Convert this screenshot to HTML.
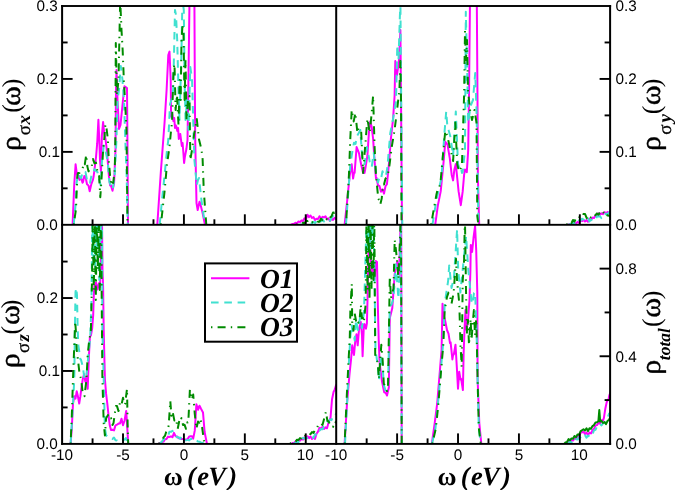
<!DOCTYPE html>
<html><head><meta charset="utf-8"><style>html,body{margin:0;padding:0;background:#fff;}svg{display:block;will-change:transform;}</style></head><body>
<svg width="675" height="490" viewBox="0 0 675 490" text-rendering="geometricPrecision">
<rect width="675" height="490" fill="#fff"/>
<defs>
<clipPath id="cTL"><rect x="62.1" y="6.0" width="274.1" height="218.8"/></clipPath>
<clipPath id="cTR"><rect x="336.2" y="6.0" width="273.9" height="218.8"/></clipPath>
<clipPath id="cBL"><rect x="62.1" y="224.8" width="274.1" height="219.1"/></clipPath>
<clipPath id="cBR"><rect x="336.2" y="224.8" width="273.9" height="219.1"/></clipPath>
</defs>
<g clip-path="url(#cTL)" fill="none" stroke-linejoin="round">
<polyline stroke="#ff00ff" stroke-width="2" points="72.6,224.8 74.2,185.4 75.6,164.3 76.8,173.7 78.0,175.5 79.5,179.9 81.0,177.2 82.5,182.8 83.1,181.9 84.3,176.0 85.5,176.7 87.0,184.3 88.5,185.5 89.7,191.3 91.3,184.2 93.0,179.6 93.7,176.0 96.0,157.3 97.2,143.2 98.4,119.7 99.3,140.0 100.0,160.0 101.0,172.0 101.9,135.0 103.1,122.0 104.3,133.8 105.4,138.5 106.6,147.9 107.8,162.0 108.9,176.0 110.1,185.4 111.0,185.6 112.5,190.7 114.1,183.0 115.5,150.0 116.0,90.0 116.5,70.0 117.5,100.0 119.0,129.0 120.5,125.0 122.0,110.0 124.0,90.0 124.5,86.3 126.0,87.3 127.0,88.0 127.5,150.0 128.0,224.8"/>
<polyline stroke="#ff00ff" stroke-width="2" points="157.3,224.8 160.9,171.0 164.6,122.0 166.6,90.0 168.3,55.0 169.5,51.6 170.7,80.0 171.1,116.8 172.3,114.0 173.4,121.0 174.2,118.0 175.0,128.0 175.5,125.1 176.2,126.0 177.3,131.0 178.1,128.0 178.8,139.0 180.3,134.0 181.8,146.0 182.6,143.0 183.4,153.0 184.1,163.0 184.9,156.7 186.4,149.0 187.5,140.0 188.3,90.0 189.5,0.0 190.5,1.6 192.0,-2.9 193.5,1.1 194.4,0.0 194.8,80.0 195.2,140.0 196.5,203.0 197.7,210.0 199.5,201.8 200.1,203.0 202.6,213.0 205.0,224.8"/>
<polyline stroke="#ff00ff" stroke-width="2" points="290.7,224.8 292.5,224.0 294.0,223.9 295.5,222.7 297.0,223.3 298.5,221.4 300.0,222.1 301.5,220.5 303.0,221.0 304.5,218.3 306.0,219.0 307.5,214.7 309.0,217.1 310.5,215.5 312.0,218.0 313.5,217.1 315.0,220.0 316.5,218.7 318.0,218.9 319.5,216.2 321.0,218.8 322.5,216.8 324.0,217.4 325.5,216.3 327.0,219.3 328.5,218.4 330.0,221.0 331.5,218.6 333.0,219.9 334.5,217.8 336.0,219.1 337.0,217.8"/>
<polyline stroke="#40e0d0" stroke-width="2" stroke-dasharray="7.6 5.7" points="73.7,224.8 75.6,204.2 76.6,183.0 78.0,173.7 79.5,176.0 81.0,178.3 82.5,172.8 84.0,173.9 85.5,172.1 87.0,179.8 88.5,179.0 90.0,182.7 91.5,175.2 93.0,174.6 94.5,169.1 96.0,171.0 97.5,172.1 98.4,176.0 100.7,185.4 101.9,162.0 103.8,145.5 105.4,150.2 107.8,162.0 108.9,178.4 109.5,182.3 111.0,185.6 112.5,189.4 113.2,186.6 114.8,173.7 116.5,138.5 117.5,100.0 119.0,90.0 120.8,66.0 122.5,80.0 124.0,100.0 125.4,143.2 126.6,173.7 127.7,224.8"/>
<polyline stroke="#40e0d0" stroke-width="2" stroke-dasharray="7.6 5.7" points="159.7,224.8 162.0,200.0 164.6,175.0 167.0,150.0 168.3,140.0 170.0,104.0 171.5,100.0 173.2,90.0 175.0,10.0 176.0,15.0 177.2,40.0 178.5,90.0 179.5,120.0 181.3,60.0 182.4,0.0 183.8,10.0 184.6,80.0 185.5,120.0 187.0,100.0 188.5,130.0 190.3,67.0 192.0,79.0 193.5,130.0 194.4,160.0 196.8,185.0 198.0,180.1 199.0,178.0 201.4,200.0 205.0,224.8"/>
<polyline stroke="#40e0d0" stroke-width="2" stroke-dasharray="7.6 5.7" points="298.0,224.8 298.5,224.8 300.0,224.7 301.5,224.5 303.0,224.6 304.5,224.3 306.0,224.5 307.5,223.7 309.0,224.0 310.5,223.1 312.0,223.4 313.5,221.8 315.0,223.0 316.5,221.3 318.0,222.7 319.5,220.3 321.0,221.4 322.5,219.1 324.0,221.5 325.5,220.6 327.0,222.1 328.5,220.3 330.0,220.7 331.5,217.8 333.0,215.9 334.5,211.6 336.0,212.2 337.0,210.6"/>
<polyline stroke="#008b00" stroke-width="2" stroke-dasharray="1.4 5.2 8 5.2" points="73.7,224.8 76.0,209.0 77.3,176.0 78.0,173.0 79.5,173.0 81.0,171.0 82.5,168.6 84.0,163.0 84.8,164.3 86.2,154.9 87.4,166.6 88.5,171.4 90.0,169.3 91.5,167.8 93.0,159.1 94.5,163.4 96.0,162.6 97.5,171.9 99.1,176.0 100.3,197.2 101.4,180.7 103.1,150.2 104.3,138.5 105.4,124.4 106.6,129.1 107.8,138.5 108.9,162.0 110.1,176.0 111.3,185.4 112.5,182.5 113.2,183.0 114.8,169.0 115.3,140.0 115.8,43.0 117.0,95.0 118.5,80.0 120.2,0.0 121.5,30.0 122.6,49.0 123.9,81.0 125.0,100.0 126.5,130.0 127.5,224.8"/>
<polyline stroke="#008b00" stroke-width="2" stroke-dasharray="1.4 5.2 8 5.2" points="160.9,224.8 164.6,191.0 167.0,164.0 169.5,147.0 170.7,134.0 172.0,122.0 173.5,70.0 174.5,64.0 175.6,110.0 177.0,95.0 178.5,125.0 179.7,80.0 180.7,100.0 181.5,40.0 182.6,24.0 183.5,34.0 184.6,100.0 185.5,60.0 186.5,120.0 188.0,100.0 189.5,96.0 190.3,160.0 192.0,150.0 194.0,135.0 196.8,119.0 198.9,139.0 201.4,149.0 202.6,159.0 203.8,191.0 206.3,224.8"/>
<polyline stroke="#008b00" stroke-width="2" stroke-dasharray="1.4 5.2 8 5.2" points="296.0,224.8 297.0,224.4 298.5,224.3 300.0,223.5 301.5,223.8 303.0,222.7 304.5,223.4 306.0,220.9 307.5,221.1 309.0,220.5 310.5,222.9 312.0,222.0 313.5,223.2 315.0,222.9 316.5,223.4 318.0,221.6 319.5,221.7 321.0,218.8 322.5,220.2 324.0,218.7 325.5,220.6 327.0,219.0 328.5,220.6 330.0,217.5 331.5,216.4 333.0,212.5 334.5,212.8 336.0,211.1 337.0,211.6"/>
</g>
<g clip-path="url(#cTR)" fill="none" stroke-linejoin="round">
<polyline stroke="#ff00ff" stroke-width="2" points="344.6,224.8 347.4,198.6 349.7,175.7 351.7,164.3 353.1,178.6 354.0,173.2 354.6,172.9 356.6,147.0 358.9,152.9 361.1,164.3 363.1,172.9 364.5,173.0 365.1,170.0 367.4,155.7 368.9,132.9 370.3,121.4 371.7,127.1 373.1,138.6 374.6,161.4 376.0,178.6 376.5,177.8 378.0,185.5 379.5,186.0 381.0,191.7 382.5,189.4 384.0,193.6 385.5,186.3 386.9,184.3 388.9,164.3 390.9,138.6 393.1,118.6 394.6,95.7 395.3,61.0 397.0,75.0 399.0,60.0 400.4,30.0 401.2,120.0 402.0,224.8"/>
<polyline stroke="#ff00ff" stroke-width="2" points="435.2,224.8 437.9,205.2 440.7,191.4 443.4,163.9 445.3,141.8 447.5,144.6 449.8,158.4 451.7,174.9 453.1,180.4 454.4,169.4 455.8,163.9 457.2,177.6 458.6,191.4 460.8,205.2 462.7,191.4 464.1,174.9 465.0,169.6 466.8,172.1 468.2,150.1 469.0,95.0 470.0,0.0 471.0,1.8 472.5,-1.5 474.0,2.4 475.5,-1.9 476.8,0.0 477.5,100.0 477.9,177.6 479.2,224.8"/>
<polyline stroke="#ff00ff" stroke-width="2" points="567.3,224.8 568.5,224.5 570.0,224.3 571.5,223.7 573.0,224.1 574.5,222.8 576.0,223.6 577.5,221.9 579.0,222.8 580.5,220.5 582.0,221.1 583.5,220.0 585.0,221.5 586.5,220.1 588.0,221.8 589.5,218.8 591.0,220.1 592.5,217.6 594.0,218.0 595.5,215.4 597.0,215.4 598.5,213.3 600.0,214.8 601.5,213.3 603.0,214.1 604.5,212.0 606.0,213.2 607.5,212.0 609.0,212.7 611.0,210.9"/>
<polyline stroke="#40e0d0" stroke-width="2" stroke-dasharray="7.6 5.7" points="346.0,224.8 350.3,164.3 353.1,147.1 354.0,142.8 355.5,144.0 357.0,136.1 358.5,133.6 360.3,130.0 362.3,158.6 363.0,159.2 364.6,164.3 366.9,147.1 369.7,161.4 370.5,164.9 371.7,167.1 373.7,152.9 376.0,172.9 376.5,173.4 378.0,182.4 379.5,177.3 381.0,178.9 382.5,171.2 384.0,175.4 386.0,175.7 387.4,167.1 390.3,132.9 393.1,118.6 396.0,101.4 397.3,45.0 398.5,60.0 400.4,0.0 401.2,100.0 402.3,224.8"/>
<polyline stroke="#40e0d0" stroke-width="2" stroke-dasharray="7.6 5.7" points="432.4,224.8 436.5,199.7 441.5,177.6 444.2,136.3 446.2,111.5 447.5,128.0 448.5,129.9 450.3,136.3 453.1,155.6 455.8,111.5 458.0,163.9 459.0,167.3 460.5,165.7 462.0,173.0 462.7,172.1 465.0,150.1 465.8,11.7 467.0,60.0 468.2,122.5 470.0,110.0 471.0,104.9 473.0,100.0 475.2,73.0 476.5,110.0 477.3,150.1 478.4,224.8"/>
<polyline stroke="#40e0d0" stroke-width="2" stroke-dasharray="7.6 5.7" points="568.3,224.8 570.0,224.1 571.5,224.1 573.0,223.0 574.5,223.3 576.0,221.3 577.5,222.7 579.0,220.4 580.5,220.8 582.0,218.7 583.5,219.6 585.0,217.4 586.5,219.3 588.0,218.4 589.5,221.5 591.0,219.6 592.5,220.4 594.0,219.2 595.5,220.0 597.0,216.2 598.5,216.5 600.0,216.3 601.5,218.1 603.0,215.4 604.5,215.8 606.0,213.6 607.5,214.3 609.0,212.3 611.0,213.3"/>
<polyline stroke="#008b00" stroke-width="2" stroke-dasharray="1.4 5.2 8 5.2" points="346.0,224.8 348.9,175.7 350.3,138.6 351.7,110.0 353.7,121.4 355.4,112.9 357.4,132.9 358.5,128.2 360.0,129.5 361.1,130.0 363.1,172.9 365.1,147.1 367.4,118.6 369.7,132.9 371.7,112.9 373.1,95.7 374.6,147.0 376.0,175.7 378.3,198.6 379.5,200.9 380.3,204.3 381.7,198.6 383.1,184.3 384.0,184.5 385.5,178.6 387.0,177.0 388.9,170.0 391.7,147.1 394.6,130.0 397.4,107.1 399.4,90.0 400.4,61.0 401.0,100.0 401.5,224.8"/>
<polyline stroke="#008b00" stroke-width="2" stroke-dasharray="1.4 5.2 8 5.2" points="431.0,224.8 436.5,194.2 438.0,187.9 439.5,186.8 440.7,180.4 443.4,150.1 445.3,130.8 447.5,136.3 450.3,150.1 451.5,153.6 453.1,161.1 455.3,122.5 457.2,163.9 459.0,171.5 460.5,169.0 461.9,166.6 464.1,95.0 465.0,31.0 466.0,60.0 467.0,40.0 468.0,90.0 470.0,110.0 472.0,120.0 474.5,110.0 476.5,122.5 477.3,216.2 478.4,224.8"/>
<polyline stroke="#008b00" stroke-width="2" stroke-dasharray="1.4 5.2 8 5.2" points="566.4,224.8 567.0,224.3 568.5,224.1 570.0,221.8 571.5,223.0 573.0,220.0 574.5,221.5 576.0,218.7 577.5,219.7 579.0,217.4 580.5,217.4 582.0,213.6 583.5,214.1 585.0,213.9 586.5,217.7 588.0,219.3 589.5,220.5 591.0,217.2 592.5,217.0 594.0,214.1 595.5,215.2 597.0,213.4 598.5,214.7 600.0,212.3 601.5,214.0 603.0,211.9 604.5,214.3 606.0,212.9 607.5,215.6 609.0,215.6 611.0,217.2"/>
</g>
<g clip-path="url(#cBL)" fill="none" stroke-linejoin="round">
<polyline stroke="#ff00ff" stroke-width="2" points="70.6,443.9 71.8,428.0 73.0,403.5 74.3,396.2 75.5,398.6 76.7,391.3 77.9,396.2 79.2,403.5 80.4,396.2 81.6,386.4 82.8,379.0 84.1,374.1 85.3,381.5 86.5,376.6 87.7,388.8 89.0,354.5 89.9,337.0 91.0,335.0 92.2,328.0 93.2,315.0 93.8,295.0 94.4,286.0 96.0,282.5 97.5,289.5 99.0,283.3 100.0,287.0 100.8,260.0 101.3,222.0 102.0,222.0 102.5,270.0 103.1,287.0 103.7,330.0 104.9,379.0 106.1,393.7 107.3,403.5 108.6,415.8 109.8,425.6 111.0,430.0 112.5,429.8 114.0,430.4 115.5,425.4 117.0,424.7 118.5,423.6 120.0,423.4 121.5,418.7 123.0,425.2 124.5,420.7 126.2,410.9 127.0,423.1 128.2,443.9"/>
<polyline stroke="#ff00ff" stroke-width="2" points="158.1,443.9 159.0,443.5 160.5,443.0 162.0,442.1 163.5,441.6 165.0,439.3 166.5,439.0 168.0,436.6 169.5,437.0 171.0,436.3 172.5,437.2 174.0,432.9 175.5,436.2 177.0,436.5 178.5,438.2 180.0,437.8 181.5,439.0 183.0,438.9 184.5,440.4 186.0,439.4 187.5,439.3 189.0,436.8 190.5,436.2 192.0,436.3 193.2,438.6 194.8,430.4 196.4,404.3 198.0,409.8 199.5,405.7 201.0,408.8 203.0,412.4 204.6,432.0 207.0,443.9"/>
<polyline stroke="#ff00ff" stroke-width="2" points="291.4,443.9 292.5,443.1 294.0,442.9 295.5,441.5 297.0,442.0 298.5,439.8 300.0,440.6 301.5,438.8 303.0,439.6 304.5,437.3 306.0,438.6 307.5,436.3 309.0,438.2 310.5,436.5 312.0,439.0 313.5,437.6 315.0,438.9 316.5,433.8 318.0,431.6 319.5,427.9 321.0,429.1 322.5,426.9 324.0,429.0 325.5,427.3 327.0,428.3 328.5,422.8 330.5,417.9 332.0,399.5 333.6,391.8 334.5,390.2 336.0,385.2 337.0,384.2"/>
<polyline stroke="#40e0d0" stroke-width="2" stroke-dasharray="7.6 5.7" points="70.6,443.9 73.0,403.5 74.3,379.0 74.9,330.0 75.5,292.0 76.3,288.0 77.0,295.0 77.7,330.0 78.3,345.0 80.4,359.4 81.0,359.7 82.8,366.8 84.5,379.0 85.5,378.3 86.5,374.1 88.5,354.5 90.2,337.4 91.5,300.0 92.3,215.0 93.3,260.0 94.3,215.0 95.3,270.0 96.3,215.0 97.3,250.0 98.3,215.0 99.3,280.0 100.3,215.0 101.3,240.0 102.0,215.0 102.4,330.0 103.7,379.0 104.9,428.0 106.1,435.4 108.0,436.6 109.5,438.6 111.0,438.6 112.5,438.9 114.0,437.6 115.5,440.2 117.0,440.5 118.5,441.8 120.0,441.4 121.5,441.3 123.0,440.2 124.5,439.6 126.0,438.0 127.7,443.9"/>
<polyline stroke="#40e0d0" stroke-width="2" stroke-dasharray="7.6 5.7" points="159.7,443.9 160.5,443.0 162.0,441.6 163.5,439.3 165.0,438.6 166.5,436.3 168.0,435.8 169.5,431.7 171.0,431.8 172.5,430.8 174.0,434.2 175.5,434.3 177.0,437.3 178.5,437.3 180.0,438.9 181.5,436.8 183.0,438.2 184.5,438.2 186.0,440.4 187.5,439.9 189.0,440.4 190.5,439.0 192.0,439.1 193.5,438.5 195.0,440.2 196.5,440.3 198.0,441.6 199.5,441.7 201.0,442.6 202.5,442.8 204.0,443.6 204.6,443.9"/>
<polyline stroke="#40e0d0" stroke-width="2" stroke-dasharray="7.6 5.7" points="293.0,443.9 294.0,443.3 295.5,442.9 297.0,441.6 298.5,442.1 300.0,439.4 301.5,440.7 303.0,437.8 304.5,438.7 306.0,437.0 307.5,438.2 309.0,437.2 310.5,438.5 312.0,436.9 313.5,438.0 315.0,434.2 316.5,434.5 318.0,430.1 319.5,430.7 321.0,429.0 322.5,429.3 324.0,426.4 325.5,425.7 327.0,421.7 328.5,421.4 330.0,419.5 331.5,420.2 333.0,416.6 334.5,416.9 336.0,413.9 337.0,413.3"/>
<polyline stroke="#008b00" stroke-width="2" stroke-dasharray="1.4 5.2 8 5.2" points="70.6,443.9 71.8,415.8 73.0,379.0 74.3,344.7 75.2,321.4 75.8,330.0 76.7,349.6 77.9,359.4 79.6,374.1 81.1,379.0 82.8,393.7 84.5,396.2 86.5,379.0 87.7,354.5 89.0,342.3 90.9,330.0 92.0,280.0 92.8,215.0 93.8,290.0 94.8,215.0 95.8,300.0 96.8,215.0 97.8,270.0 98.8,215.0 99.8,290.0 100.8,215.0 101.2,215.0 101.7,300.0 102.4,379.0 103.7,423.1 104.9,435.4 106.1,418.2 108.0,415.1 109.5,419.1 111.0,418.0 112.5,425.0 113.5,423.1 115.9,406.0 117.0,406.1 118.5,411.1 120.0,402.3 121.5,404.7 123.0,397.8 124.5,404.6 125.2,403.5 127.0,388.8 127.7,428.0 128.2,443.9"/>
<polyline stroke="#008b00" stroke-width="2" stroke-dasharray="1.4 5.2 8 5.2" points="158.9,443.9 160.5,441.6 162.0,440.1 163.5,437.4 165.0,435.8 166.5,430.8 168.0,428.3 168.7,425.5 170.3,401.0 171.4,415.7 172.5,411.8 173.1,414.1 174.4,420.6 176.0,419.0 177.7,428.8 179.3,420.6 180.0,422.2 181.5,418.1 183.0,425.0 184.5,424.7 186.0,428.8 187.5,422.1 188.3,422.2 189.9,389.6 191.5,399.4 192.0,398.9 193.2,394.5 194.8,414.1 196.4,428.8 198.0,421.6 199.5,422.7 200.5,419.0 202.1,427.1 203.8,440.2 205.4,443.9"/>
<polyline stroke="#008b00" stroke-width="2" stroke-dasharray="1.4 5.2 8 5.2" points="289.9,443.9 291.0,443.1 292.5,442.9 294.0,441.5 295.5,441.7 297.0,439.7 298.5,440.0 300.0,438.1 301.5,438.6 303.0,435.9 304.5,436.8 306.0,434.6 307.5,434.8 309.0,433.1 310.5,434.2 312.0,432.0 313.5,433.0 315.0,429.9 316.5,429.5 318.0,425.4 319.5,425.7 321.0,423.5 322.5,424.9 324.4,417.9 325.9,411.8 327.4,420.9 328.5,421.3 330.0,424.3 331.5,424.8 333.0,427.0 334.5,421.2 336.0,422.5 337.0,421.0"/>
</g>
<g clip-path="url(#cBR)" fill="none" stroke-linejoin="round">
<polyline stroke="#ff00ff" stroke-width="2" points="344.6,443.9 347.0,403.5 349.5,374.1 351.0,360.0 352.2,345.3 354.0,355.0 355.3,340.4 356.5,334.3 357.7,345.3 359.0,329.4 360.8,322.0 362.0,335.5 362.6,356.3 363.9,324.5 364.5,324.1 366.0,328.7 366.9,323.3 367.5,300.0 368.5,250.0 369.8,224.0 370.5,255.0 371.5,275.0 373.0,268.0 374.5,280.0 375.8,261.0 377.0,262.0 377.7,300.0 378.7,340.0 379.6,362.6 381.9,381.0 384.2,392.4 385.5,392.4 387.0,395.5 388.8,387.8 389.8,318.0 392.3,308.0 394.7,274.0 397.2,262.0 399.1,274.0 400.8,215.0 401.2,215.0 401.7,443.9"/>
<polyline stroke="#ff00ff" stroke-width="2" points="431.8,443.9 434.7,423.1 437.2,403.5 439.6,374.1 441.6,349.6 442.5,303.7 443.6,314.9 445.0,320.0 447.0,330.0 448.5,333.7 450.0,343.1 450.6,342.3 452.4,359.4 453.0,355.5 453.8,354.5 455.5,344.7 456.8,366.8 458.0,388.8 459.2,371.7 460.5,379.4 461.2,379.0 462.9,390.0 463.6,354.5 464.5,330.0 465.5,310.0 466.5,330.0 468.0,320.0 469.5,300.0 470.4,270.0 470.8,245.0 472.1,252.0 473.5,238.0 475.1,226.0 476.2,250.0 477.3,292.4 477.6,379.0 479.3,423.1 481.3,443.9"/>
<polyline stroke="#ff00ff" stroke-width="2" points="567.0,443.9 568.5,441.7 570.0,442.1 571.5,440.2 573.0,440.6 574.5,438.6 576.0,439.1 577.5,436.3 579.0,436.7 580.5,432.5 582.0,432.5 583.5,431.6 585.0,434.2 586.5,432.4 588.0,435.4 589.5,432.5 591.0,433.5 592.5,430.1 594.0,428.8 595.5,425.5 597.0,425.1 598.5,422.7 600.0,423.6 601.5,420.3 603.0,420.6 603.9,417.9 605.3,408.8 606.7,402.3 607.5,400.3 608.5,399.6 609.4,395.0 611.0,391.0"/>
<polyline stroke="#40e0d0" stroke-width="2" stroke-dasharray="7.6 5.7" points="345.0,443.9 347.5,395.0 349.0,360.0 350.5,335.0 351.6,324.5 353.0,335.0 354.0,336.3 354.7,340.4 356.0,320.0 358.0,330.0 360.0,318.0 362.0,328.0 364.0,312.0 366.0,240.0 367.0,215.0 368.0,250.0 369.0,215.0 370.0,255.0 371.0,215.0 372.0,245.0 373.0,215.0 374.3,260.0 375.5,350.0 377.7,365.0 379.0,380.0 381.3,355.0 382.6,365.0 383.8,385.0 385.5,390.4 387.0,387.8 388.0,388.0 389.8,305.9 391.5,304.6 393.5,298.5 395.9,264.2 398.4,298.5 400.1,261.8 400.8,215.0 401.7,443.9"/>
<polyline stroke="#40e0d0" stroke-width="2" stroke-dasharray="7.6 5.7" points="432.0,443.9 435.5,428.0 438.0,403.5 440.5,374.0 443.0,345.0 444.7,303.7 448.1,281.2 449.2,265.4 451.5,287.9 453.0,281.7 453.7,281.2 457.1,229.5 458.2,270.0 460.4,292.4 463.8,258.7 466.1,236.2 468.3,270.0 471.7,303.7 472.5,303.0 474.0,293.1 475.1,292.4 476.5,330.0 477.6,379.0 478.8,428.0 480.8,443.9"/>
<polyline stroke="#40e0d0" stroke-width="2" stroke-dasharray="7.6 5.7" points="566.0,443.9 567.0,443.4 568.5,443.1 570.0,441.7 571.5,442.5 573.0,440.1 574.5,441.7 576.0,439.2 577.5,439.6 579.0,437.3 580.5,437.6 582.0,435.1 583.5,436.4 585.0,435.2 586.5,437.6 588.0,435.5 589.5,436.7 591.0,434.0 592.5,434.4 594.0,430.4 595.5,429.9 597.0,426.5 598.5,426.6 600.0,424.0 601.5,425.4 603.0,423.3 604.5,422.6 606.0,419.2 607.5,417.9 609.0,413.8 611.0,412.0"/>
<polyline stroke="#008b00" stroke-width="2" stroke-dasharray="1.4 5.2 8 5.2" points="344.6,443.9 347.0,391.3 348.6,360.0 349.8,336.7 350.4,308.6 351.8,283.8 352.2,322.0 353.5,330.6 354.7,313.5 356.5,323.3 357.0,321.1 358.5,322.6 359.6,319.6 360.8,304.9 362.0,318.4 363.0,318.0 363.9,322.0 365.7,303.7 366.5,215.0 367.5,290.0 368.5,215.0 369.5,300.0 370.5,215.0 371.5,290.0 372.5,215.0 373.5,280.0 374.3,215.0 375.2,354.5 376.5,360.6 377.7,361.9 378.9,379.0 381.3,344.7 382.6,359.4 383.8,383.9 385.5,386.2 387.0,391.1 388.0,386.4 389.8,276.5 391.0,298.5 391.5,294.8 393.5,288.7 394.7,239.7 395.9,249.5 397.2,261.8 398.4,278.9 399.6,249.5 400.8,215.0 401.0,215.0 401.7,443.9"/>
<polyline stroke="#008b00" stroke-width="2" stroke-dasharray="1.4 5.2 8 5.2" points="432.3,443.9 435.9,428.0 438.4,403.5 440.8,374.1 443.3,344.7 444.7,310.4 447.0,296.9 448.5,292.6 449.2,292.4 451.5,303.7 453.7,292.4 456.0,258.7 457.1,281.2 459.3,303.7 460.5,345.0 461.7,366.8 462.7,281.2 464.1,260.0 464.9,215.0 466.0,290.0 467.0,335.0 468.0,320.0 469.0,345.0 470.6,319.0 471.5,340.0 473.0,320.0 473.9,310.0 475.0,335.0 476.2,319.0 476.8,340.0 477.6,379.0 478.8,428.0 480.8,443.9"/>
<polyline stroke="#008b00" stroke-width="2" points="564.2,443.9 565.5,442.4 567.0,442.0 568.5,439.1 570.0,440.3 571.5,438.4 573.0,438.8 574.5,436.0 576.0,437.2 577.5,434.4 579.0,434.8 580.5,431.4 582.0,430.3 583.5,429.2 585.0,430.5 586.5,428.3 588.0,431.1 589.5,428.2 591.0,428.8 592.5,426.1 594.0,425.1 595.5,422.4 597.0,422.2 598.4,421.1 599.3,410.1 600.2,421.6 601.5,420.9 603.0,423.0 604.5,422.0 606.0,424.1 607.5,421.0 609.0,419.7 611.0,416.0"/>
</g>
<rect x="61.10" y="5.05" width="550.00" height="1.90" fill="#000"/>
<rect x="61.10" y="223.85" width="550.00" height="1.90" fill="#000"/>
<rect x="61.10" y="442.95" width="550.00" height="1.90" fill="#000"/>
<rect x="61.10" y="5.05" width="2.00" height="439.80" fill="#000"/>
<rect x="335.20" y="5.05" width="2.00" height="439.80" fill="#000"/>
<rect x="609.10" y="5.05" width="2.00" height="439.80" fill="#000"/>
<rect x="91.61" y="219.30" width="1.90" height="5.50" fill="#000"/>
<rect x="91.61" y="438.40" width="1.90" height="5.50" fill="#000"/>
<rect x="122.06" y="214.30" width="1.90" height="10.50" fill="#000"/>
<rect x="122.06" y="433.40" width="1.90" height="10.50" fill="#000"/>
<rect x="152.52" y="219.30" width="1.90" height="5.50" fill="#000"/>
<rect x="152.52" y="438.40" width="1.90" height="5.50" fill="#000"/>
<rect x="182.97" y="214.30" width="1.90" height="10.50" fill="#000"/>
<rect x="182.97" y="433.40" width="1.90" height="10.50" fill="#000"/>
<rect x="213.43" y="219.30" width="1.90" height="5.50" fill="#000"/>
<rect x="213.43" y="438.40" width="1.90" height="5.50" fill="#000"/>
<rect x="243.88" y="214.30" width="1.90" height="10.50" fill="#000"/>
<rect x="243.88" y="433.40" width="1.90" height="10.50" fill="#000"/>
<rect x="274.34" y="219.30" width="1.90" height="5.50" fill="#000"/>
<rect x="274.34" y="438.40" width="1.90" height="5.50" fill="#000"/>
<rect x="304.79" y="214.30" width="1.90" height="10.50" fill="#000"/>
<rect x="304.79" y="433.40" width="1.90" height="10.50" fill="#000"/>
<rect x="365.71" y="219.30" width="1.90" height="5.50" fill="#000"/>
<rect x="365.71" y="438.40" width="1.90" height="5.50" fill="#000"/>
<rect x="396.16" y="214.30" width="1.90" height="10.50" fill="#000"/>
<rect x="396.16" y="433.40" width="1.90" height="10.50" fill="#000"/>
<rect x="426.62" y="219.30" width="1.90" height="5.50" fill="#000"/>
<rect x="426.62" y="438.40" width="1.90" height="5.50" fill="#000"/>
<rect x="457.07" y="214.30" width="1.90" height="10.50" fill="#000"/>
<rect x="457.07" y="433.40" width="1.90" height="10.50" fill="#000"/>
<rect x="487.53" y="219.30" width="1.90" height="5.50" fill="#000"/>
<rect x="487.53" y="438.40" width="1.90" height="5.50" fill="#000"/>
<rect x="517.98" y="214.30" width="1.90" height="10.50" fill="#000"/>
<rect x="517.98" y="433.40" width="1.90" height="10.50" fill="#000"/>
<rect x="548.44" y="219.30" width="1.90" height="5.50" fill="#000"/>
<rect x="548.44" y="438.40" width="1.90" height="5.50" fill="#000"/>
<rect x="578.89" y="214.30" width="1.90" height="10.50" fill="#000"/>
<rect x="578.89" y="433.40" width="1.90" height="10.50" fill="#000"/>
<rect x="62.10" y="187.38" width="5.50" height="1.90" fill="#000"/>
<rect x="62.10" y="150.92" width="10.50" height="1.90" fill="#000"/>
<rect x="62.10" y="114.45" width="5.50" height="1.90" fill="#000"/>
<rect x="62.10" y="77.98" width="10.50" height="1.90" fill="#000"/>
<rect x="62.10" y="41.52" width="5.50" height="1.90" fill="#000"/>
<rect x="62.10" y="406.48" width="5.50" height="1.90" fill="#000"/>
<rect x="62.10" y="370.02" width="10.50" height="1.90" fill="#000"/>
<rect x="62.10" y="333.55" width="5.50" height="1.90" fill="#000"/>
<rect x="62.10" y="297.08" width="10.50" height="1.90" fill="#000"/>
<rect x="62.10" y="260.62" width="5.50" height="1.90" fill="#000"/>
<rect x="604.60" y="187.38" width="5.50" height="1.90" fill="#000"/>
<rect x="599.60" y="150.92" width="10.50" height="1.90" fill="#000"/>
<rect x="604.60" y="114.45" width="5.50" height="1.90" fill="#000"/>
<rect x="599.60" y="77.98" width="10.50" height="1.90" fill="#000"/>
<rect x="604.60" y="41.52" width="5.50" height="1.90" fill="#000"/>
<rect x="604.60" y="399.13" width="5.50" height="1.90" fill="#000"/>
<rect x="599.60" y="355.31" width="10.50" height="1.90" fill="#000"/>
<rect x="604.60" y="311.49" width="5.50" height="1.90" fill="#000"/>
<rect x="599.60" y="267.67" width="10.50" height="1.90" fill="#000"/>
<text x="36.60" y="11.30" font-family="Liberation Sans" font-size="15.3" fill="#000">0.3</text>
<text x="615.50" y="11.30" font-family="Liberation Sans" font-size="15.3" fill="#000">0.3</text>
<text x="36.70" y="84.23" font-family="Liberation Sans" font-size="15.3" fill="#000">0.2</text>
<text x="615.50" y="84.23" font-family="Liberation Sans" font-size="15.3" fill="#000">0.2</text>
<text x="38.73" y="157.17" font-family="Liberation Sans" font-size="15.3" fill="#000">0.1</text>
<text x="615.50" y="157.17" font-family="Liberation Sans" font-size="15.3" fill="#000">0.1</text>
<text x="36.53" y="230.10" font-family="Liberation Sans" font-size="15.3" fill="#000">0.0</text>
<text x="615.50" y="230.10" font-family="Liberation Sans" font-size="15.3" fill="#000">0.0</text>
<text x="36.70" y="303.33" font-family="Liberation Sans" font-size="15.3" fill="#000">0.2</text>
<text x="38.73" y="376.27" font-family="Liberation Sans" font-size="15.3" fill="#000">0.1</text>
<text x="36.53" y="449.20" font-family="Liberation Sans" font-size="15.3" fill="#000">0.0</text>
<text x="615.50" y="273.92" font-family="Liberation Sans" font-size="15.3" fill="#000">0.8</text>
<text x="615.50" y="361.56" font-family="Liberation Sans" font-size="15.3" fill="#000">0.4</text>
<text x="615.50" y="449.20" font-family="Liberation Sans" font-size="15.3" fill="#000">0.0</text>
<text x="51.00" y="460.20" font-family="Liberation Sans" font-size="15.3" fill="#000">-10</text>
<text x="116.19" y="460.20" font-family="Liberation Sans" font-size="15.3" fill="#000">-5</text>
<text x="179.67" y="460.20" font-family="Liberation Sans" font-size="15.3" fill="#000">0</text>
<text x="240.59" y="460.20" font-family="Liberation Sans" font-size="15.3" fill="#000">5</text>
<text x="296.70" y="460.20" font-family="Liberation Sans" font-size="15.3" fill="#000">10</text>
<text x="325.10" y="460.20" font-family="Liberation Sans" font-size="15.3" fill="#000">-10</text>
<text x="390.29" y="460.20" font-family="Liberation Sans" font-size="15.3" fill="#000">-5</text>
<text x="453.77" y="460.20" font-family="Liberation Sans" font-size="15.3" fill="#000">0</text>
<text x="514.69" y="460.20" font-family="Liberation Sans" font-size="15.3" fill="#000">5</text>
<text x="570.80" y="460.20" font-family="Liberation Sans" font-size="15.3" fill="#000">10</text>
<text x="163.65" y="485.20" font-family="Liberation Serif" font-weight="bold" font-style="normal" font-size="26.0">ω</text>
<text x="186.89" y="485.00" font-family="Liberation Serif" font-weight="bold" font-style="italic" font-size="26.5">(</text>
<text x="197.28" y="485.00" font-family="Liberation Serif" font-weight="bold" font-style="italic" font-size="26.5">e</text>
<text x="208.25" y="485.00" font-family="Liberation Serif" font-weight="bold" font-style="italic" font-size="26.5">V</text>
<text x="228.17" y="485.00" font-family="Liberation Serif" font-weight="bold" font-style="italic" font-size="26.5">)</text>
<text x="437.45" y="485.20" font-family="Liberation Serif" font-weight="bold" font-style="normal" font-size="26.0">ω</text>
<text x="460.69" y="485.00" font-family="Liberation Serif" font-weight="bold" font-style="italic" font-size="26.5">(</text>
<text x="471.08" y="485.00" font-family="Liberation Serif" font-weight="bold" font-style="italic" font-size="26.5">e</text>
<text x="482.05" y="485.00" font-family="Liberation Serif" font-weight="bold" font-style="italic" font-size="26.5">V</text>
<text x="501.97" y="485.00" font-family="Liberation Serif" font-weight="bold" font-style="italic" font-size="26.5">)</text>
<text transform="translate(19.80,0) rotate(-90) scale(1.080,1)" x="-139.77" y="0" font-family="Liberation Serif" font-size="28.0" font-weight="normal" font-style="normal" stroke="#000" stroke-width="0.35">ρ</text>
<text transform="translate(30.30,0) rotate(-90) scale(1.000,1)" x="-135.22" y="0" font-family="Liberation Serif" font-size="19.0" font-weight="normal" font-style="normal" stroke="#000" stroke-width="0.25">σ</text>
<text transform="translate(30.30,0) rotate(-90) scale(1.000,1)" x="-124.47" y="0" font-family="Liberation Serif" font-size="19.0" font-weight="bold" font-style="italic">x</text>
<text transform="translate(19.80,0) rotate(-90) scale(1.000,1)" x="-112.84" y="0" font-family="Liberation Serif" font-size="26.0" font-weight="normal" font-style="normal">(</text>
<text transform="translate(19.80,0) rotate(-90) scale(1.060,1)" x="-99.98" y="0" font-family="Liberation Serif" font-size="28.5" font-weight="normal" font-style="normal" stroke="#000" stroke-width="0.35">ω</text>
<text transform="translate(19.80,0) rotate(-90) scale(1.000,1)" x="-87.24" y="0" font-family="Liberation Serif" font-size="26.0" font-weight="normal" font-style="normal">)</text>
<text transform="translate(660.00,0) rotate(-90) scale(1.080,1)" x="-139.77" y="0" font-family="Liberation Serif" font-size="28.0" font-weight="normal" font-style="normal" stroke="#000" stroke-width="0.35">ρ</text>
<text transform="translate(671.00,0) rotate(-90) scale(1.000,1)" x="-134.72" y="0" font-family="Liberation Serif" font-size="19.0" font-weight="normal" font-style="normal" stroke="#000" stroke-width="0.25">σ</text>
<text transform="translate(671.00,0) rotate(-90) scale(1.000,1)" x="-122.60" y="0" font-family="Liberation Serif" font-size="19.0" font-weight="bold" font-style="italic">y</text>
<text transform="translate(660.00,0) rotate(-90) scale(1.000,1)" x="-114.34" y="0" font-family="Liberation Serif" font-size="26.0" font-weight="normal" font-style="normal">(</text>
<text transform="translate(660.00,0) rotate(-90) scale(1.060,1)" x="-99.23" y="0" font-family="Liberation Serif" font-size="28.5" font-weight="normal" font-style="normal" stroke="#000" stroke-width="0.35">ω</text>
<text transform="translate(660.00,0) rotate(-90) scale(1.000,1)" x="-87.34" y="0" font-family="Liberation Serif" font-size="26.0" font-weight="normal" font-style="normal">)</text>
<text transform="translate(18.50,0) rotate(-90) scale(1.080,1)" x="-340.97" y="0" font-family="Liberation Serif" font-size="28.0" font-weight="normal" font-style="normal" stroke="#000" stroke-width="0.35">ρ</text>
<text transform="translate(28.50,0) rotate(-90) scale(1.000,1)" x="-353.12" y="0" font-family="Liberation Serif" font-size="19.0" font-weight="normal" font-style="normal" stroke="#000" stroke-width="0.25">σ</text>
<text transform="translate(28.50,0) rotate(-90) scale(1.000,1)" x="-341.46" y="0" font-family="Liberation Serif" font-size="19.0" font-weight="bold" font-style="italic">z</text>
<text transform="translate(18.50,0) rotate(-90) scale(1.000,1)" x="-334.54" y="0" font-family="Liberation Serif" font-size="26.0" font-weight="normal" font-style="normal">(</text>
<text transform="translate(18.50,0) rotate(-90) scale(1.060,1)" x="-306.58" y="0" font-family="Liberation Serif" font-size="28.5" font-weight="normal" font-style="normal" stroke="#000" stroke-width="0.35">ω</text>
<text transform="translate(18.50,0) rotate(-90) scale(1.000,1)" x="-308.14" y="0" font-family="Liberation Serif" font-size="26.0" font-weight="normal" font-style="normal">)</text>
<text transform="translate(659.60,0) rotate(-90) scale(1.080,1)" x="-347.08" y="0" font-family="Liberation Serif" font-size="28.0" font-weight="normal" font-style="normal" stroke="#000" stroke-width="0.35">ρ</text>
<text transform="translate(669.50,0) rotate(-90) scale(1.000,1)" x="-360.13" y="0" font-family="Liberation Serif" font-size="17.5" font-weight="bold" font-style="italic">total</text>
<text transform="translate(659.60,0) rotate(-90) scale(1.000,1)" x="-327.04" y="0" font-family="Liberation Serif" font-size="26.0" font-weight="normal" font-style="normal">(</text>
<text transform="translate(659.60,0) rotate(-90) scale(1.060,1)" x="-299.89" y="0" font-family="Liberation Serif" font-size="28.5" font-weight="normal" font-style="normal" stroke="#000" stroke-width="0.35">ω</text>
<text transform="translate(659.60,0) rotate(-90) scale(1.000,1)" x="-299.24" y="0" font-family="Liberation Serif" font-size="26.0" font-weight="normal" font-style="normal">)</text>
<rect x="205" y="263.4" width="92" height="78.3" fill="#fff" stroke="#000" stroke-width="2"/>
<line x1="211" y1="278.3" x2="249.4" y2="278.3" stroke="#ff00ff" stroke-width="2"/>
<text x="259.91" y="287.5" font-family="Liberation Serif" font-weight="bold" font-style="italic" font-size="27.5">O1</text>
<line x1="211" y1="302.5" x2="249.4" y2="302.5" stroke="#40e0d0" stroke-width="2" stroke-dasharray="7.6 5.7"/>
<text x="259.91" y="311.9" font-family="Liberation Serif" font-weight="bold" font-style="italic" font-size="27.5">O2</text>
<line x1="211" y1="327.3" x2="249.4" y2="327.3" stroke="#008b00" stroke-width="2" stroke-dasharray="1.4 5.2 8 5.2"/>
<text x="259.91" y="336.3" font-family="Liberation Serif" font-weight="bold" font-style="italic" font-size="27.5">O3</text>
</svg>
</body></html>
